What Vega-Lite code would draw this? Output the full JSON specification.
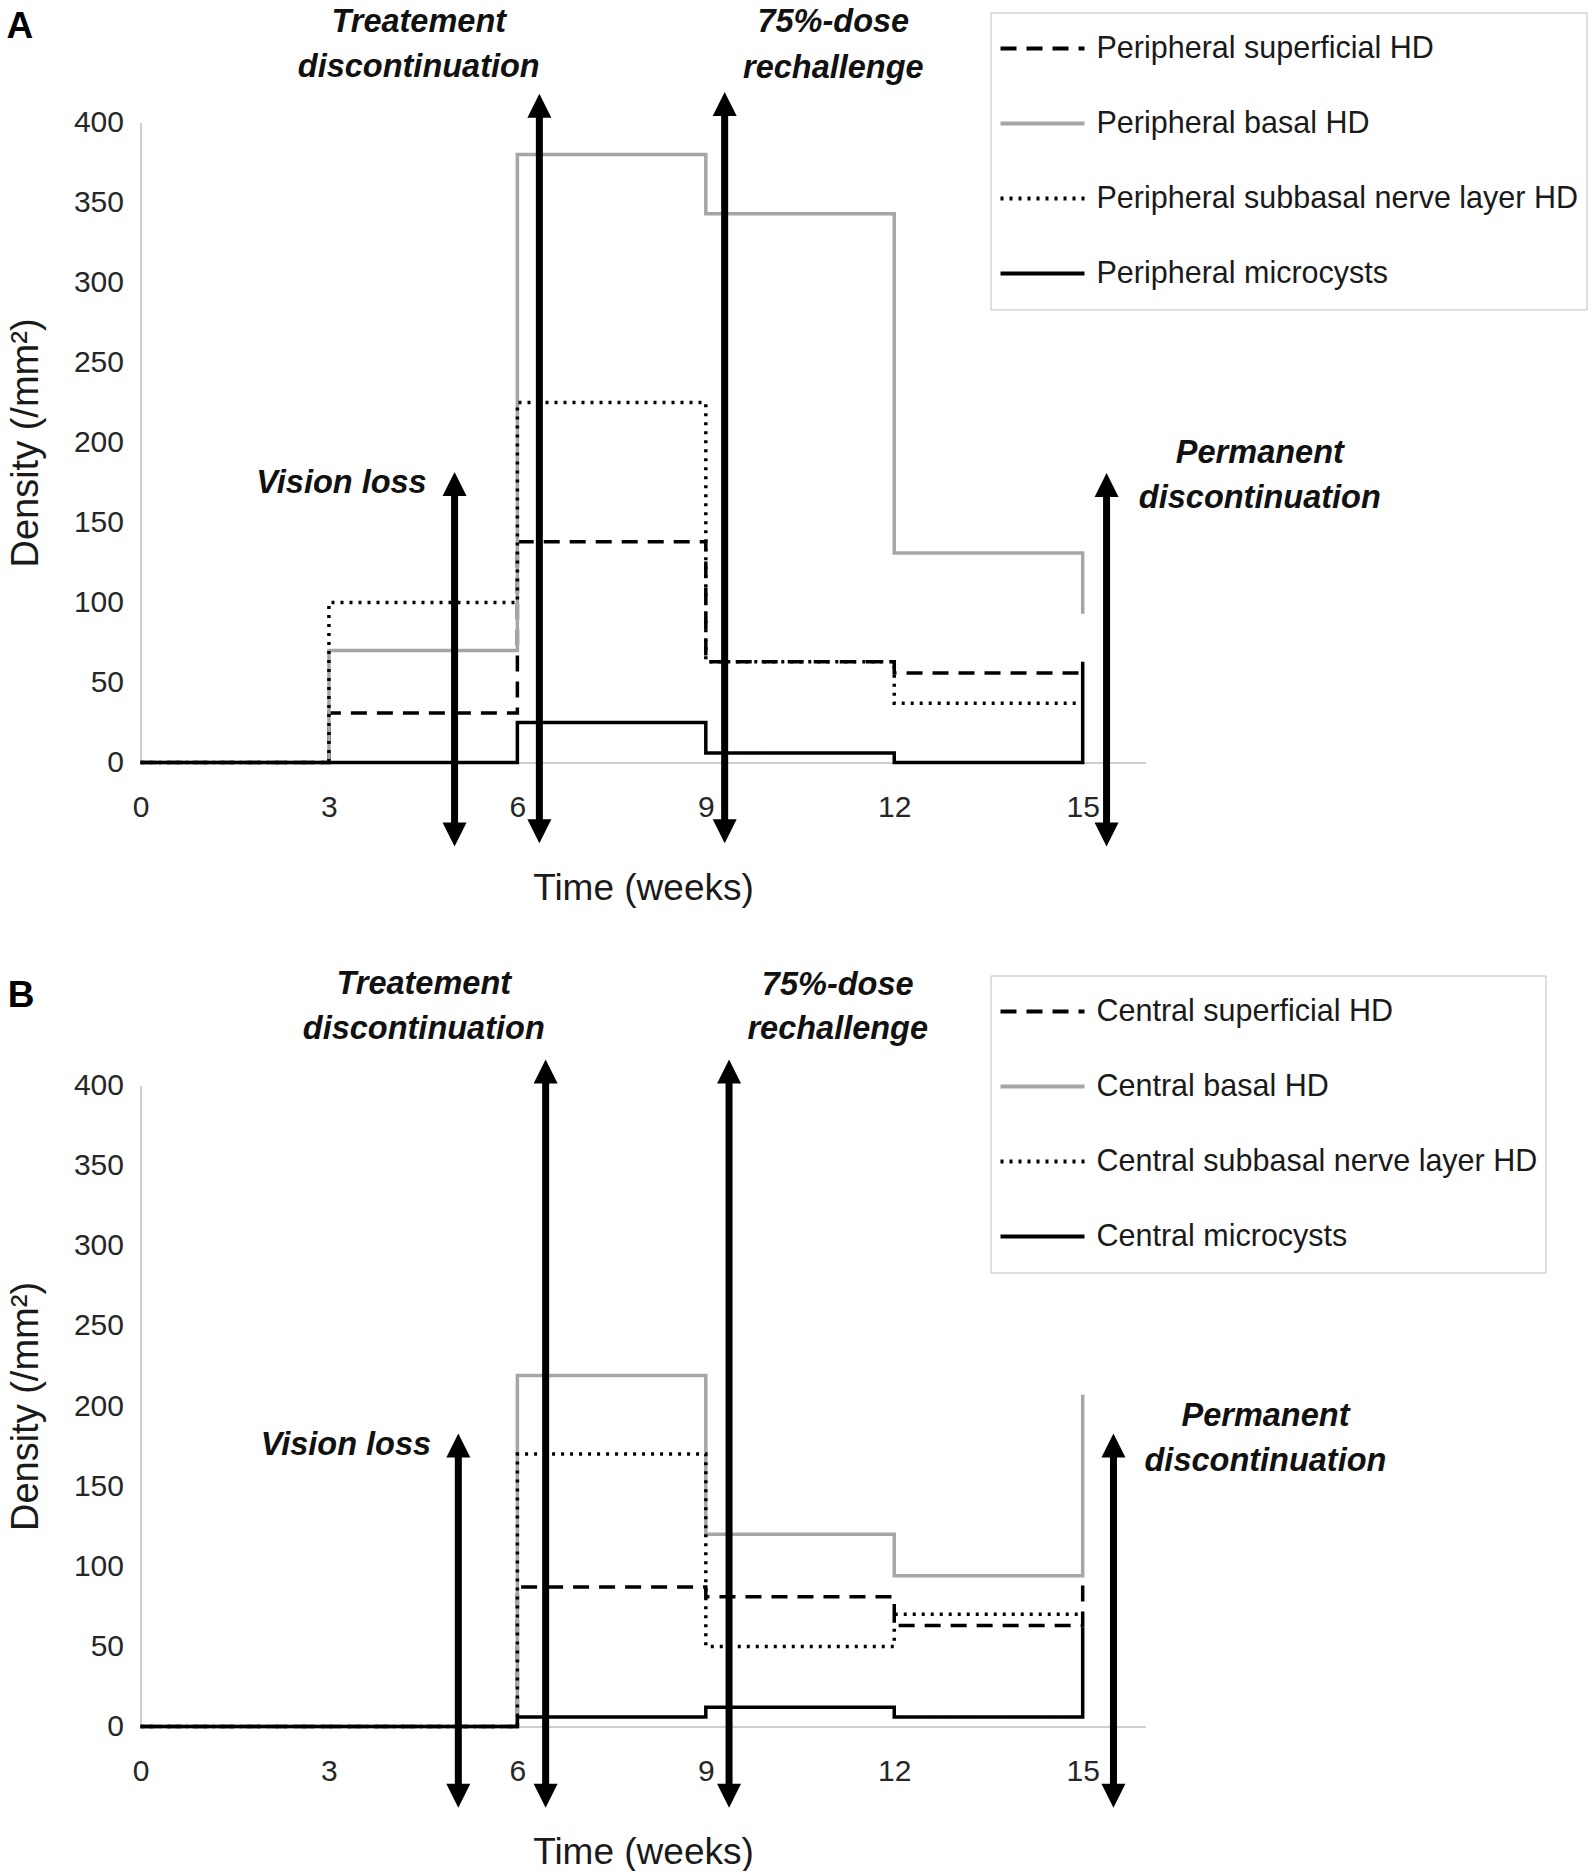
{
  "$schema": "https://vega.github.io/schema/vega-lite/v6.json",
  "background": "white",
  "padding": {"left": 6.5, "top": 5.5, "right": 0, "bottom": 0},
  "autosize": {"type": "pad"},
  "bounds": "flush",
  "spacing": 323,
  "config": {
    "font": "Liberation Sans",
    "view": {"stroke": null},
    "axis": {
      "grid": false, "ticks": false, "tickSize": 0,
      "domainColor": "#bfbfbf", "domainWidth": 1.5,
      "labelFont": "Liberation Sans", "labelFontSize": 30, "labelColor": "#262626",
      "titleFont": "Liberation Sans", "titleFontWeight": "normal", "titleColor": "#1a1a1a"
    },
    "axisX": {"labelPadding": 29.5, "titlePadding": 48, "titleFontSize": 37, "labelFlush": false, "format": "d"},
    "axisY": {"labelPadding": 17, "titlePadding": 28, "titleFontSize": 38},
    "legend": {
      "orient": "none", "symbolType": "stroke", "symbolSize": 7056, "symbolStrokeWidth": 4,
      "clipHeight": 56, "rowPadding": 19, "labelOffset": 10, "labelFontSize": 30.5,
      "labelFont": "Liberation Sans", "labelColor": "#1a1a1a", "labelLimit": 0, "padding": 8,
      "strokeColor": "#bfbfbf", "fillColor": "white", "symbolOffset": 0
    }
  },
  "datasets": {
    "peripheral": [
      {"series": "Peripheral superficial HD", "week": 0, "density": 0},
      {"series": "Peripheral superficial HD", "week": 3, "density": 31},
      {"series": "Peripheral superficial HD", "week": 6, "density": 138},
      {"series": "Peripheral superficial HD", "week": 9, "density": 63},
      {"series": "Peripheral superficial HD", "week": 12, "density": 56},
      {"series": "Peripheral superficial HD", "week": 15, "density": 56},
      {"series": "Peripheral basal HD", "week": 0, "density": 0},
      {"series": "Peripheral basal HD", "week": 3, "density": 70},
      {"series": "Peripheral basal HD", "week": 6, "density": 380},
      {"series": "Peripheral basal HD", "week": 9, "density": 343},
      {"series": "Peripheral basal HD", "week": 12, "density": 131},
      {"series": "Peripheral basal HD", "week": 15, "density": 93},
      {"series": "Peripheral subbasal nerve layer HD", "week": 0, "density": 0},
      {"series": "Peripheral subbasal nerve layer HD", "week": 3, "density": 100},
      {"series": "Peripheral subbasal nerve layer HD", "week": 6, "density": 225},
      {"series": "Peripheral subbasal nerve layer HD", "week": 9, "density": 63},
      {"series": "Peripheral subbasal nerve layer HD", "week": 12, "density": 37},
      {"series": "Peripheral subbasal nerve layer HD", "week": 15, "density": 37},
      {"series": "Peripheral microcysts", "week": 0, "density": 0},
      {"series": "Peripheral microcysts", "week": 3, "density": 0},
      {"series": "Peripheral microcysts", "week": 6, "density": 25},
      {"series": "Peripheral microcysts", "week": 9, "density": 6},
      {"series": "Peripheral microcysts", "week": 12, "density": 0},
      {"series": "Peripheral microcysts", "week": 15, "density": 63}
    ],
    "central": [
      {"series": "Central superficial HD", "week": 0, "density": 0},
      {"series": "Central superficial HD", "week": 3, "density": 0},
      {"series": "Central superficial HD", "week": 6, "density": 87},
      {"series": "Central superficial HD", "week": 9, "density": 81},
      {"series": "Central superficial HD", "week": 12, "density": 63},
      {"series": "Central superficial HD", "week": 15, "density": 90},
      {"series": "Central basal HD", "week": 0, "density": 0},
      {"series": "Central basal HD", "week": 3, "density": 0},
      {"series": "Central basal HD", "week": 6, "density": 219},
      {"series": "Central basal HD", "week": 9, "density": 120},
      {"series": "Central basal HD", "week": 12, "density": 94},
      {"series": "Central basal HD", "week": 15, "density": 207},
      {"series": "Central subbasal nerve layer HD", "week": 0, "density": 0},
      {"series": "Central subbasal nerve layer HD", "week": 3, "density": 0},
      {"series": "Central subbasal nerve layer HD", "week": 6, "density": 170},
      {"series": "Central subbasal nerve layer HD", "week": 9, "density": 50},
      {"series": "Central subbasal nerve layer HD", "week": 12, "density": 70},
      {"series": "Central subbasal nerve layer HD", "week": 15, "density": 70},
      {"series": "Central microcysts", "week": 0, "density": 0},
      {"series": "Central microcysts", "week": 3, "density": 0},
      {"series": "Central microcysts", "week": 6, "density": 6},
      {"series": "Central microcysts", "week": 9, "density": 12},
      {"series": "Central microcysts", "week": 12, "density": 6},
      {"series": "Central microcysts", "week": 15, "density": 62}
    ],
    "events_A": [
      {"event": "Vision loss", "week": 5.0, "from": -52.5, "to": 181.5},
      {"event": "Treatement discontinuation", "week": 6.35, "from": -50.5, "to": 418},
      {"event": "75%-dose rechallenge", "week": 9.3, "from": -50.5, "to": 419},
      {"event": "Permanent discontinuation", "week": 15.38, "from": -52.5, "to": 181}
    ],
    "events_B": [
      {"event": "Vision loss", "week": 5.06, "from": -50.7, "to": 182.8},
      {"event": "Treatement discontinuation", "week": 6.45, "from": -50.7, "to": 416.3},
      {"event": "75%-dose rechallenge", "week": 9.37, "from": -50.7, "to": 416.3},
      {"event": "Permanent discontinuation", "week": 15.49, "from": -50.7, "to": 182.8}
    ],
    "labels_A": [
      {"label": "Treatement", "week": 4.43, "density": 463},
      {"label": "discontinuation", "week": 4.43, "density": 435},
      {"label": "75%-dose", "week": 11.03, "density": 463},
      {"label": "rechallenge", "week": 11.03, "density": 434},
      {"label": "Vision loss", "week": 3.2, "density": 175},
      {"label": "Permanent", "week": 17.82, "density": 193.7},
      {"label": "discontinuation", "week": 17.82, "density": 165.3}
    ],
    "labels_B": [
      {"label": "Treatement", "week": 4.51, "density": 463.3},
      {"label": "discontinuation", "week": 4.51, "density": 435},
      {"label": "75%-dose", "week": 11.1, "density": 463},
      {"label": "rechallenge", "week": 11.1, "density": 435},
      {"label": "Vision loss", "week": 3.27, "density": 175.4},
      {"label": "Permanent", "week": 17.91, "density": 194},
      {"label": "discontinuation", "week": 17.91, "density": 165.6}
    ],
    "panel_A": [{"label": "A", "week": -1.92, "density": 460}],
    "panel_B": [{"label": "B", "week": -1.9, "density": 456}]
  },
  "resolve": {
    "scale": {"color": "independent", "strokeDash": "independent"},
    "legend": {"color": "independent", "strokeDash": "independent"}
  },
  "vconcat": [
    {
      "width": 1005, "height": 640,
      "layer": [
        {
          "data": {"name": "peripheral"},
          "mark": {"type": "line", "interpolate": "step-after", "strokeWidth": 3.5},
          "encoding": {
            "x": {"field": "week", "type": "quantitative", "title": "Time (weeks)", "scale": {"domain": [0, 16]}, "axis": {"values": [0, 3, 6, 9, 12, 15]}},
            "y": {"field": "density", "type": "quantitative", "title": "Density (/mm²)", "scale": {"domain": [0, 400]}, "axis": {"values": [0, 50, 100, 150, 200, 250, 300, 350, 400]}},
            "color": {"field": "series", "type": "nominal", "sort": null,
              "scale": {"domain": ["Peripheral superficial HD", "Peripheral basal HD", "Peripheral subbasal nerve layer HD", "Peripheral microcysts"], "range": ["#000000", "#a6a6a6", "#000000", "#000000"]},
              "legend": {"title": null, "legendX": 850, "legendY": -110}},
            "strokeDash": {"field": "series", "type": "nominal", "sort": null,
              "scale": {"domain": ["Peripheral superficial HD", "Peripheral basal HD", "Peripheral subbasal nerve layer HD", "Peripheral microcysts"], "range": [[16, 10], [1, 0], [3, 6], [1, 0]]},
              "legend": {"title": null, "legendX": 850, "legendY": -110}}
          }
        },
        {
          "data": {"name": "events_A"},
          "mark": {"type": "rule", "strokeWidth": 7, "color": "#000000", "yOffset": 22, "y2Offset": -22},
          "encoding": {
            "x": {"field": "week", "type": "quantitative", "title": "Time (weeks)"},
            "y": {"field": "to", "type": "quantitative", "title": "Density (/mm²)"},
            "y2": {"field": "from"}
          }
        },
        {
          "data": {"name": "events_A"},
          "mark": {"type": "point", "shape": "M0,0L-1,2L1,2Z", "size": 576, "filled": true, "color": "#000000", "opacity": 1, "strokeWidth": 0},
          "encoding": {
            "x": {"field": "week", "type": "quantitative", "title": "Time (weeks)"},
            "y": {"field": "to", "type": "quantitative", "title": "Density (/mm²)"}
          }
        },
        {
          "data": {"name": "events_A"},
          "mark": {"type": "point", "shape": "M0,0L-1,-2L1,-2Z", "size": 576, "filled": true, "color": "#000000", "opacity": 1, "strokeWidth": 0},
          "encoding": {
            "x": {"field": "week", "type": "quantitative", "title": "Time (weeks)"},
            "y": {"field": "from", "type": "quantitative", "title": "Density (/mm²)"}
          }
        },
        {
          "data": {"name": "labels_A"},
          "mark": {"type": "text", "font": "Liberation Sans", "fontSize": 32.5, "fontWeight": "bold", "fontStyle": "italic", "align": "center", "baseline": "middle", "color": "#111111"},
          "encoding": {
            "x": {"field": "week", "type": "quantitative", "title": "Time (weeks)"},
            "y": {"field": "density", "type": "quantitative", "title": "Density (/mm²)"},
            "text": {"field": "label"}
          }
        },
        {
          "data": {"name": "panel_A"},
          "mark": {"type": "text", "font": "Liberation Sans", "fontSize": 37, "fontWeight": "bold", "align": "center", "baseline": "middle", "color": "#000000"},
          "encoding": {
            "x": {"field": "week", "type": "quantitative", "title": "Time (weeks)"},
            "y": {"field": "density", "type": "quantitative", "title": "Density (/mm²)"},
            "text": {"field": "label"}
          }
        }
      ]
    },
    {
      "width": 1005, "height": 641,
      "layer": [
        {
          "data": {"name": "central"},
          "mark": {"type": "line", "interpolate": "step-after", "strokeWidth": 3.5},
          "encoding": {
            "x": {"field": "week", "type": "quantitative", "title": "Time (weeks)", "scale": {"domain": [0, 16]}, "axis": {"values": [0, 3, 6, 9, 12, 15]}},
            "y": {"field": "density", "type": "quantitative", "title": "Density (/mm²)", "scale": {"domain": [0, 400]}, "axis": {"values": [0, 50, 100, 150, 200, 250, 300, 350, 400]}},
            "color": {"field": "series", "type": "nominal", "sort": null,
              "scale": {"domain": ["Central superficial HD", "Central basal HD", "Central subbasal nerve layer HD", "Central microcysts"], "range": ["#000000", "#a6a6a6", "#000000", "#000000"]},
              "legend": {"title": null, "legendX": 850, "legendY": -110}},
            "strokeDash": {"field": "series", "type": "nominal", "sort": null,
              "scale": {"domain": ["Central superficial HD", "Central basal HD", "Central subbasal nerve layer HD", "Central microcysts"], "range": [[16, 10], [1, 0], [3, 6], [1, 0]]},
              "legend": {"title": null, "legendX": 850, "legendY": -110}}
          }
        },
        {
          "data": {"name": "events_B"},
          "mark": {"type": "rule", "strokeWidth": 7, "color": "#000000", "yOffset": 22, "y2Offset": -22},
          "encoding": {
            "x": {"field": "week", "type": "quantitative", "title": "Time (weeks)"},
            "y": {"field": "to", "type": "quantitative", "title": "Density (/mm²)"},
            "y2": {"field": "from"}
          }
        },
        {
          "data": {"name": "events_B"},
          "mark": {"type": "point", "shape": "M0,0L-1,2L1,2Z", "size": 576, "filled": true, "color": "#000000", "opacity": 1, "strokeWidth": 0},
          "encoding": {
            "x": {"field": "week", "type": "quantitative", "title": "Time (weeks)"},
            "y": {"field": "to", "type": "quantitative", "title": "Density (/mm²)"}
          }
        },
        {
          "data": {"name": "events_B"},
          "mark": {"type": "point", "shape": "M0,0L-1,-2L1,-2Z", "size": 576, "filled": true, "color": "#000000", "opacity": 1, "strokeWidth": 0},
          "encoding": {
            "x": {"field": "week", "type": "quantitative", "title": "Time (weeks)"},
            "y": {"field": "from", "type": "quantitative", "title": "Density (/mm²)"}
          }
        },
        {
          "data": {"name": "labels_B"},
          "mark": {"type": "text", "font": "Liberation Sans", "fontSize": 32.5, "fontWeight": "bold", "fontStyle": "italic", "align": "center", "baseline": "middle", "color": "#111111"},
          "encoding": {
            "x": {"field": "week", "type": "quantitative", "title": "Time (weeks)"},
            "y": {"field": "density", "type": "quantitative", "title": "Density (/mm²)"},
            "text": {"field": "label"}
          }
        },
        {
          "data": {"name": "panel_B"},
          "mark": {"type": "text", "font": "Liberation Sans", "fontSize": 37, "fontWeight": "bold", "align": "center", "baseline": "middle", "color": "#000000"},
          "encoding": {
            "x": {"field": "week", "type": "quantitative", "title": "Time (weeks)"},
            "y": {"field": "density", "type": "quantitative", "title": "Density (/mm²)"},
            "text": {"field": "label"}
          }
        }
      ]
    }
  ]
}
